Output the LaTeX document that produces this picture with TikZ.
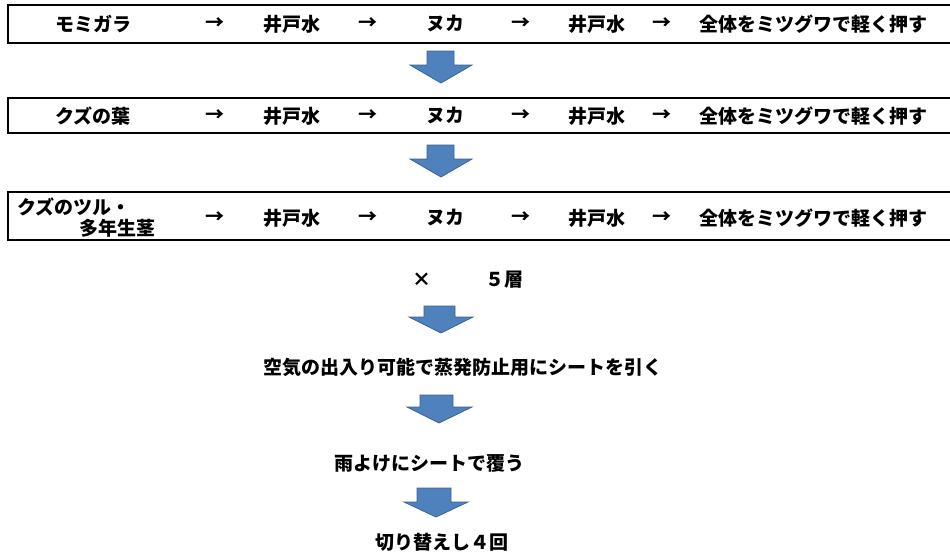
\documentclass[tikz,border=0pt]{standalone}
\usepackage{fontspec}
\newfontfamily\jp{Noto Sans CJK JP}
\definecolor{arrowblue}{HTML}{4F81BD}
\definecolor{arrowedge}{HTML}{3A6494}
\begin{document}
\begin{tikzpicture}[x=1pt,y=-1pt,
  txt/.style={font=\jp\bfseries\fontsize{19}{22}\selectfont, inner sep=0pt, anchor=center},
  rowline/.style={line width=1.2pt, black},
  barrow/.style={fill=arrowblue, draw=arrowedge, line width=0.8pt, line join=miter}]
\useasboundingbox (0,0) rectangle (950,554);
% table rows
\draw[rowline] (951,5) -- (8,5) -- (8,43) -- (951,43);
\draw[rowline] (951,98) -- (8,98) -- (8,133) -- (951,133);
\draw[rowline] (951,192) -- (8,192) -- (8,240) -- (951,240);
% row texts
\node[txt] (r1a) at (93,24) {モミガラ};
\node[txt] (r2a) at (93,116) {クズの葉};
\node[txt, anchor=west] (r3a) at (17,207) {クズのツル・};
\node[txt] (r3b) at (117,228) {多年生茎};
\foreach \r/\y in {1/24, 2/116, 3/218}{
  \node[txt] (r\r c1) at (215,\y) {→};
  \node[txt] (r\r c2) at (292,\y) {井戸水};
  \node[txt] (r\r c3) at (368,\y) {→};
  \node[txt] (r\r c4) at (445,\y) {ヌカ};
  \node[txt] (r\r c5) at (521,\y) {→};
  \node[txt] (r\r c6) at (597,\y) {井戸水};
  \node[txt] (r\r c7) at (662,\y) {→};
  \node[txt] (r\r c8) at (813,\y) {全体をミツグワで軽く押す};
}
% block arrows
\draw[barrow] (427,51) -- (454,51) -- (454,65) -- (472,65) -- (441,83) -- (410,65) -- (427,65) -- cycle;
\draw[barrow] (427,145) -- (454,145) -- (454,159) -- (472,159) -- (441,177) -- (410,159) -- (427,159) -- cycle;
\node[txt] (times) at (422,280) {×};
\node[txt] (layers) at (504,280) {５層};
\draw[barrow] (424,306) -- (455,306) -- (455,317) -- (473,317) -- (441,333) -- (409,317) -- (424,317) -- cycle;
\node[txt] (sheet) at (463,367) {空気の出入り可能で蒸発防止用にシートを引く};
\draw[barrow] (420,395) -- (453,395) -- (453,407) -- (472,407) -- (439,423) -- (407,407) -- (420,407) -- cycle;
\node[txt] (rain) at (429,463) {雨よけにシートで覆う};
\draw[barrow] (417,488) -- (451,488) -- (451,502) -- (468,502) -- (436,517) -- (404,502) -- (417,502) -- cycle;
\node[txt] (turn) at (442,542) {切り替えし４回};
\end{tikzpicture}
\end{document}
